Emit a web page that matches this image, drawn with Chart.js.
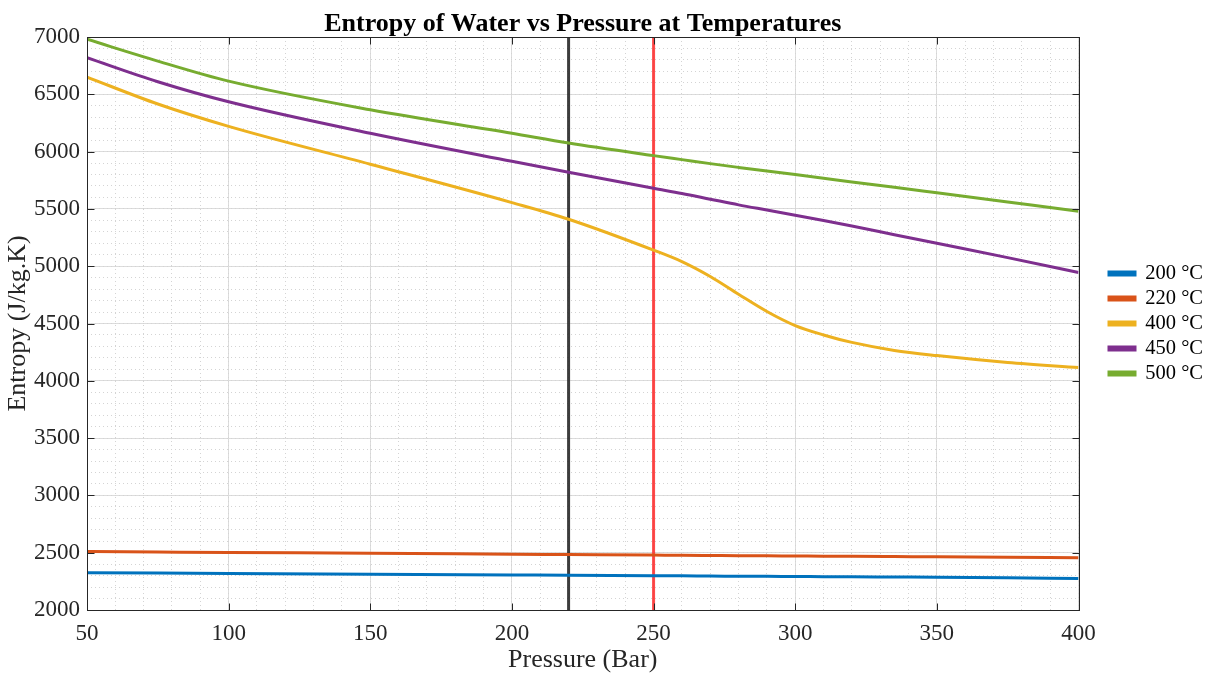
<!DOCTYPE html>
<html>
<head>
<meta charset="utf-8">
<script src="https://cdn.jsdelivr.net/npm/chart.js@4/dist/chart.umd.min.js"></script>
<style>
  body { margin: 0; background: #fff; }
</style>
</head>
<body>
<canvas id="chart" width="1219" height="677"></canvas>
<script>
// pressure (Bar)
const pressures = [50, 75, 100, 150, 200, 220, 250, 260, 270, 280, 290, 300, 310, 320, 335, 350, 375, 400];

// entropy (J/kg.K) per temperature
const s200 = [2325, 2322, 2319, 2313, 2306, 2303, 2299, 2298, 2296, 2295, 2294, 2292, 2291, 2290, 2288, 2286, 2281, 2275];
const s220 = [2510, 2506, 2502, 2495, 2487, 2484, 2479, 2478, 2476, 2474, 2473, 2471, 2470, 2468, 2466, 2464, 2460, 2455];
const s400 = [6650, 6415, 6220, 5890, 5555, 5410, 5140, 5040, 4910, 4755, 4605, 4482, 4400, 4335, 4265, 4220, 4160, 4115];
const s450 = [6820, 6610, 6435, 6160, 5915, 5820, 5680, 5635, 5585, 5535, 5490, 5445, 5398, 5350, 5275, 5200, 5075, 4945];
const s500 = [6980, 6790, 6615, 6365, 6160, 6075, 5965, 5930, 5895, 5862, 5830, 5800, 5768, 5735, 5688, 5640, 5560, 5480];

const seriesLabels = ['200 °C', '220 °C', '400 °C', '450 °C', '500 °C'];
const seriesColors = ['#0072BD', '#D95319', '#EDB120', '#7E2F8E', '#77AC30'];

// vertical marker lines
const markerPressures = [220, 250];
const markerColors = ['rgba(40,40,40,0.9)', 'rgba(255,30,30,0.8)'];

const xMin = 50, xMax = 400, yMin = 2000, yMax = 7000;

const FONT = '"Liberation Serif", "Times New Roman", serif';
const TEXT = '#262626';

const toPoints = vals => pressures.map((p, i) => ({ x: p, y: vals[i] }));

const datasets = [s200, s220, s400, s450, s500].map((vals, i) => ({
  label: seriesLabels[i],
  data: toPoints(vals),
  borderColor: seriesColors[i],
  backgroundColor: seriesColors[i],
  borderWidth: 3,
  pointRadius: 0,
  cubicInterpolationMode: 'monotone'
}));

markerPressures.forEach((p, i) => {
  datasets.push({
    label: 'marker' + i,
    data: [{ x: p, y: yMin }, { x: p, y: yMax }],
    borderColor: markerColors[i],
    backgroundColor: markerColors[i],
    borderWidth: 3,
    pointRadius: 0
  });
});

// box around the plot area, with inward tick marks
const boxPlugin = {
  id: 'box',
  afterDraw(chart) {
    const { ctx, chartArea: a, scales } = chart;
    const L = Math.round(a.left) + 0.5, R = Math.round(a.right) + 0.5;
    const T = Math.round(a.top) + 0.5, B = Math.round(a.bottom) + 0.5;
    const len = 7;
    ctx.save();
    ctx.strokeStyle = '#262626';
    ctx.lineWidth = 1;
    ctx.strokeRect(L, T, R - L, B - T);
    ctx.beginPath();
    scales.x.ticks.forEach(t => {
      const px = Math.round(scales.x.getPixelForValue(t.value)) + 0.5;
      ctx.moveTo(px, B); ctx.lineTo(px, B - len);
      ctx.moveTo(px, T); ctx.lineTo(px, T + len);
    });
    scales.y.ticks.forEach(t => {
      const py = Math.round(scales.y.getPixelForValue(t.value)) + 0.5;
      ctx.moveTo(L, py); ctx.lineTo(L + len, py);
      ctx.moveTo(R, py); ctx.lineTo(R - len, py);
    });
    ctx.stroke();
    ctx.restore();
  }
};

new Chart(document.getElementById('chart').getContext('2d'), {
  type: 'line',
  data: { datasets },
  plugins: [boxPlugin],
  options: {
    responsive: false,
    animation: false,
    layout: { padding: { left: 3, right: 6, top: 0, bottom: 0 } },
    plugins: {
      title: {
        display: true,
        fullSize: false,
        text: 'Entropy of Water vs Pressure at Temperatures',
        color: '#000',
        font: { family: FONT, size: 26, weight: 'bold', lineHeight: 1 },
        padding: { top: 11, bottom: 0 }
      },
      legend: {
        position: 'right',
        fullSize: false,
        labels: {
          filter: item => !item.text.startsWith('marker'),
          boxWidth: 26,
          boxHeight: 3,
          padding: 4.5,
          color: '#000',
          font: { family: FONT, size: 20.5 }
        }
      },
      tooltip: { enabled: false }
    },
    scales: {
      x: {
        type: 'linear',
        min: xMin,
        max: xMax,
        ticks: { stepSize: 50, color: TEXT, font: { family: FONT, size: 23, lineHeight: 1 }, padding: 12, callback: v => String(v) },
        grid: { color: '#dcdcdc', lineWidth: 1, drawTicks: false },
        border: { display: false },
        title: { display: true, text: 'Pressure (Bar)', color: TEXT, font: { family: FONT, size: 26, lineHeight: 1 }, padding: { top: 0, bottom: 4 } },
        afterFit: s => { s.height = 67; }
      },
      y: {
        min: yMin,
        max: yMax,
        ticks: { stepSize: 500, color: TEXT, font: { family: FONT, size: 23 }, padding: 7, callback: v => String(v) },
        grid: { color: '#dcdcdc', lineWidth: 1, drawTicks: false },
        border: { display: false },
        title: { display: true, text: 'Entropy (J/kg.K)', color: TEXT, font: { family: FONT, size: 26 }, padding: { top: 0, bottom: 0 } },
        afterFit: s => { s.width = 84; }
      },
      xMinor: {
        type: 'linear',
        position: 'bottom',
        min: xMin,
        max: xMax,
        ticks: { stepSize: 10, display: false },
        grid: { color: '#d4d4d4', lineWidth: 1, drawTicks: false },
        border: { display: false, dash: [1, 3] },
        afterFit: s => { s.height = 0; }
      },
      yMinor: {
        type: 'linear',
        position: 'right',
        min: yMin,
        max: yMax,
        ticks: { stepSize: 100, display: false },
        grid: { color: '#d4d4d4', lineWidth: 1, drawTicks: false },
        border: { display: false, dash: [1, 3] },
        afterFit: s => { s.width = 26; }
      }
    }
  }
});
</script>
</body>
</html>
